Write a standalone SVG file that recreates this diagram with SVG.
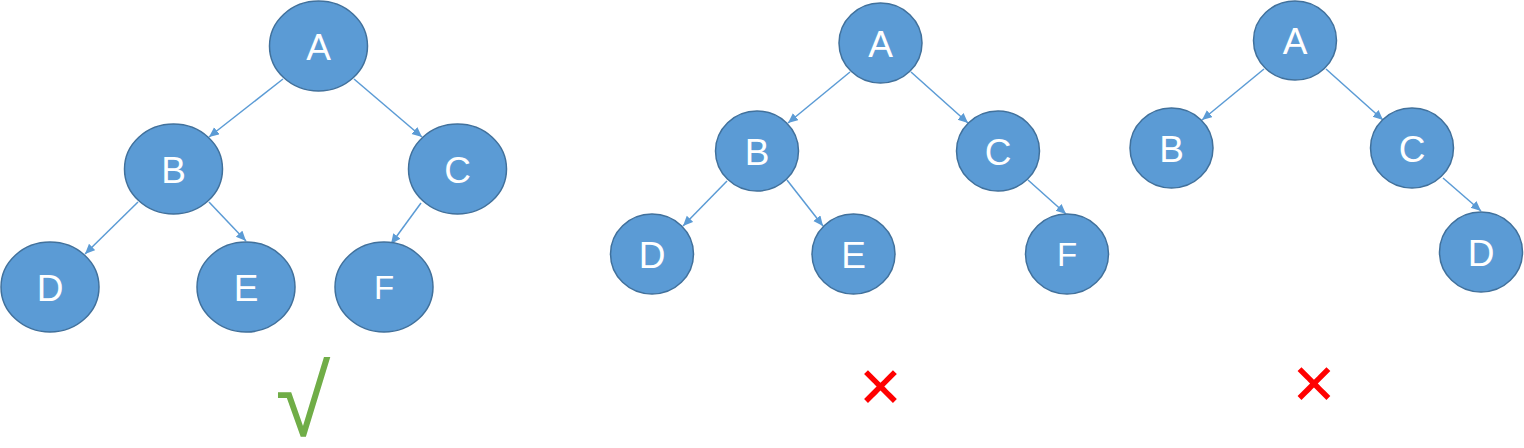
<svg xmlns="http://www.w3.org/2000/svg" width="1524" height="448" viewBox="0 0 1524 448">
<defs>
<style>
.n ellipse{fill:#5B9BD5;stroke:#41719C;stroke-width:1.5}
.n text{fill:#fff;font-family:"Liberation Sans",Arial,sans-serif;font-size:37px;text-anchor:middle}
.e line{stroke:#5B9BD5;stroke-width:1.5;marker-end:url(#ah)}
.x{fill:#FF0000;font-family:"DejaVu Sans",sans-serif;font-size:56px;text-anchor:middle}
</style>
<marker id="ah" markerUnits="userSpaceOnUse" markerWidth="11" markerHeight="10" refX="10" refY="4.5" orient="auto">
<path d="M0,0 L10,4.5 L0,9 z" fill="#5B9BD5"/>
</marker>
</defs>
<rect width="1524" height="448" fill="#fff"/>
<g id="edges" class="e">
<line x1="283" y1="79" x2="209" y2="137"/>
<line x1="354" y1="79" x2="422" y2="137"/>
<line x1="138" y1="202" x2="85" y2="254"/>
<line x1="209" y1="202" x2="246" y2="241"/>
<line x1="421" y1="203" x2="391" y2="244"/>
<line x1="850" y1="72" x2="788" y2="123"/>
<line x1="911" y1="72" x2="968" y2="123"/>
<line x1="727" y1="181" x2="683" y2="226"/>
<line x1="787" y1="180" x2="823" y2="226"/>
<line x1="1028" y1="180" x2="1066" y2="214"/>
<line x1="1264" y1="69" x2="1202" y2="120"/>
<line x1="1326" y1="69" x2="1383" y2="120"/>
<line x1="1443" y1="178" x2="1481" y2="211"/>
</g>
<g id="t1A" class="n"><ellipse cx="318.5" cy="46" rx="49" ry="45"/><text x="318.5" y="60">A</text></g>
<g id="t1B" class="n"><ellipse cx="173.5" cy="169" rx="49" ry="45"/><text x="173.5" y="183">B</text></g>
<g id="t1C" class="n"><ellipse cx="457.5" cy="169" rx="49" ry="45"/><text x="457.5" y="183">C</text></g>
<g id="t1D" class="n"><ellipse cx="50" cy="287" rx="49" ry="45"/><text x="50" y="301">D</text></g>
<g id="t1E" class="n"><ellipse cx="246" cy="287" rx="49" ry="45"/><text x="246" y="301">E</text></g>
<g id="t1F" class="n"><ellipse cx="384" cy="287" rx="49" ry="45"/><text x="384" y="299" style="font-size:33px">F</text></g>
<g id="t2A" class="n"><ellipse cx="880.5" cy="43" rx="41.5" ry="40"/><text x="880.5" y="57">A</text></g>
<g id="t2B" class="n"><ellipse cx="757" cy="151" rx="41.5" ry="40"/><text x="757" y="165">B</text></g>
<g id="t2C" class="n"><ellipse cx="998" cy="151" rx="41.5" ry="40"/><text x="998" y="165">C</text></g>
<g id="t2D" class="n"><ellipse cx="652" cy="254" rx="41.5" ry="40"/><text x="652" y="268">D</text></g>
<g id="t2E" class="n"><ellipse cx="853.5" cy="254" rx="41.5" ry="40"/><text x="853.5" y="268">E</text></g>
<g id="t2F" class="n"><ellipse cx="1067" cy="254" rx="41.5" ry="40"/><text x="1067" y="266" style="font-size:33px">F</text></g>
<g id="t3A" class="n"><ellipse cx="1295" cy="40.5" rx="41.5" ry="39.5"/><text x="1295" y="54">A</text></g>
<g id="t3B" class="n"><ellipse cx="1171.5" cy="148" rx="41.5" ry="40"/><text x="1171.5" y="162">B</text></g>
<g id="t3C" class="n"><ellipse cx="1412" cy="148" rx="41.5" ry="40"/><text x="1412" y="162">C</text></g>
<g id="t3D" class="n"><ellipse cx="1481" cy="252" rx="41.5" ry="40"/><text x="1481" y="266">D</text></g>
<text id="check" x="303" y="436" fill="#70AD47" style="font-family:'Liberation Sans',sans-serif;font-size:100px;text-anchor:middle">√</text>
<text id="cross2" class="x" x="880.5" y="407">✕</text>
<text id="cross3" class="x" x="1314" y="404">✕</text>
</svg>
